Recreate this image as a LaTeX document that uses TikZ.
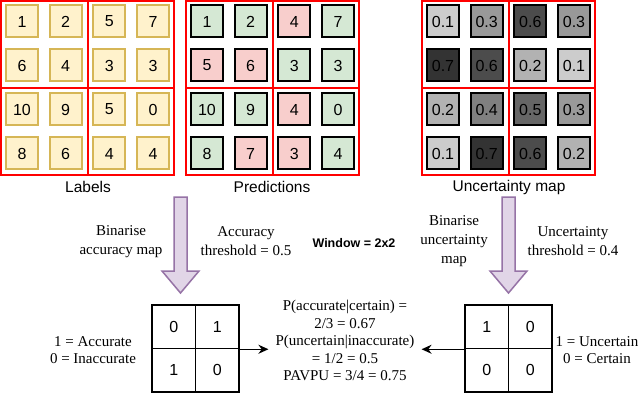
\documentclass[tikz,border=0pt]{standalone}
\usepackage{fontspec}
\setmainfont{Liberation Serif}
\setsansfont{Liberation Sans}
\usetikzlibrary{arrows.meta,calc}
\definecolor{labfill}{HTML}{FFF2CC}
\definecolor{labdraw}{HTML}{D6B656}
\definecolor{okfill}{HTML}{D5E8D4}
\definecolor{badfill}{HTML}{F8CECC}
\definecolor{arrfill}{HTML}{E1D5E7}
\definecolor{arrdraw}{HTML}{9673A6}
\definecolor{gridred}{HTML}{FF0000}
\begin{document}
\begin{tikzpicture}[x=1pt,y=-1pt,
  cellbase/.style={minimum size=32pt, inner sep=0pt, line width=2pt, font=\sffamily\fontsize{16}{16}\selectfont},
  celllab/.style={cellbase, draw=labdraw, fill=labfill},
  cellok/.style={cellbase, draw=black, fill=okfill},
  cellbad/.style={cellbase, draw=black, fill=badfill},
  cellunc/.style={cellbase, draw=black, fill=black!#1},
  redgrid/.style={draw=gridred, line width=2pt},
  title/.style={font=\sffamily\fontsize{15.5}{17}\selectfont, inner sep=0pt},
  note/.style={font=\fontsize{15}{19}\selectfont, align=center, inner sep=0pt},
  bincell/.style={draw=black, line width=1.5pt, minimum size=43.5pt, inner sep=0pt, font=\sffamily\fontsize{16}{16}\selectfont},
  bigarrow/.style={fill=arrfill, draw=arrdraw, line width=1.5pt, line join=miter},
  conn/.style={draw=black, line width=1.5pt, -{Stealth[length=10pt,width=9pt]}}
]
\useasboundingbox (0,0) rectangle (640,393);
\fill[white] (0,0) rectangle (640,393);

% ---- Labels grid
\foreach \v [count=\i from 0] in {1,2,5,7,6,4,3,3,10,9,5,0,8,6,4,4} {
  \pgfmathtruncatemacro{\r}{\i/4}
  \pgfmathtruncatemacro{\c}{mod(\i,4)}
  \node[celllab] (L\i) at ({1+21+43.67*\c},{21.5+44*\r}) {\v};
}
% ---- Predictions grid
\foreach \v/\s [count=\i from 0] in {1/ok,2/ok,4/bad,7/ok,5/bad,6/bad,3/ok,3/ok,10/ok,9/ok,4/bad,0/ok,8/ok,7/bad,3/bad,4/ok} {
  \pgfmathtruncatemacro{\r}{\i/4}
  \pgfmathtruncatemacro{\c}{mod(\i,4)}
  \node[cell\s] (P\i) at ({186+21+43.67*\c},{21.5+44*\r}) {\v};
}
% ---- Uncertainty grid
\foreach \v/\g [count=\i from 0] in {0.1/20,0.3/40,0.6/70,0.3/40,0.7/80,0.6/70,0.2/30,0.1/20,0.2/30,0.4/50,0.5/60,0.3/40,0.1/20,0.7/80,0.6/70,0.2/30} {
  \pgfmathtruncatemacro{\r}{\i/4}
  \pgfmathtruncatemacro{\c}{mod(\i,4)}
  \node[cellunc=\g] (U\i) at ({422+21+43.67*\c},{21.5+44*\r}) {\v};
}
% ---- red window grids
\foreach \ox in {1,186,422} {
  \draw[redgrid] (\ox,1) rectangle (\ox+173,175);
  \draw[redgrid] (\ox+86.5,1) -- (\ox+86.5,175);
  \draw[redgrid] (\ox,88) -- (\ox+173,88);
}

% ---- titles
\node[title] (labt) at (88,187) {Labels};
\node[title] (predt) at (272,187) {Predictions};
\node[title] (unct) at (509,187) {Uncertainty map};

% ---- big arrows
\draw[bigarrow] (174,197) -- (187,197) -- (187,271) -- (199,271) -- (180.5,293) -- (162,271) -- (174,271) -- cycle;
\draw[bigarrow] (502,197) -- (515,197) -- (515,271) -- (527,271) -- (508.5,293) -- (490,271) -- (502,271) -- cycle;

% ---- annotations
\node[note] (binacc) at (121,241.5) {Binarise\\accuracy map};
\node[note] (accth) at (246,241.5) {Accuracy\\threshold = 0.5};
\node[font=\sffamily\bfseries\fontsize{12.5}{14}\selectfont, inner sep=0pt] (win) at (354,243) {Window = 2x2};
\node[note] (binunc) at (454,241) {Binarise\\uncertainty\\map};
\node[note] (uncth) at (573,241.5) {Uncertainty\\threshold = 0.4};

% ---- binary maps
\node[bincell] (A1) at (173.75,326.75) {0};
\node[bincell] (A2) at (217.25,326.75) {1};
\node[bincell] (A3) at (173.75,370.25) {1};
\node[bincell] (A4) at (217.25,370.25) {0};
\node[bincell] (B1) at (486.75,326.75) {1};
\node[bincell] (B2) at (530.25,326.75) {0};
\node[bincell] (B3) at (486.75,370.25) {0};
\node[bincell] (B4) at (530.25,370.25) {0};

\node[note, font=\fontsize{15}{17}\selectfont] (acclegend) at (93,350.5) {1 = Accurate\\0 = Inaccurate};
\node[note, font=\fontsize{15}{17}\selectfont] (unclegend) at (597,350.5) {1 = Uncertain\\0 = Certain};

\node[note, font=\fontsize{15}{17.5}\selectfont, inner xsep=7pt] (mid) at (345,340.5)
  {P(accurate|certain) =\\2/3 = 0.67\\P(uncertain|inaccurate)\\= 1/2 = 0.5\\PAVPU = 3/4 = 0.75};

\draw[conn] (A2.south east) -- (A2.south east -| mid.west);
\draw[conn] (B1.south west) -- (B1.south west -| mid.east);
\end{tikzpicture}
\end{document}
